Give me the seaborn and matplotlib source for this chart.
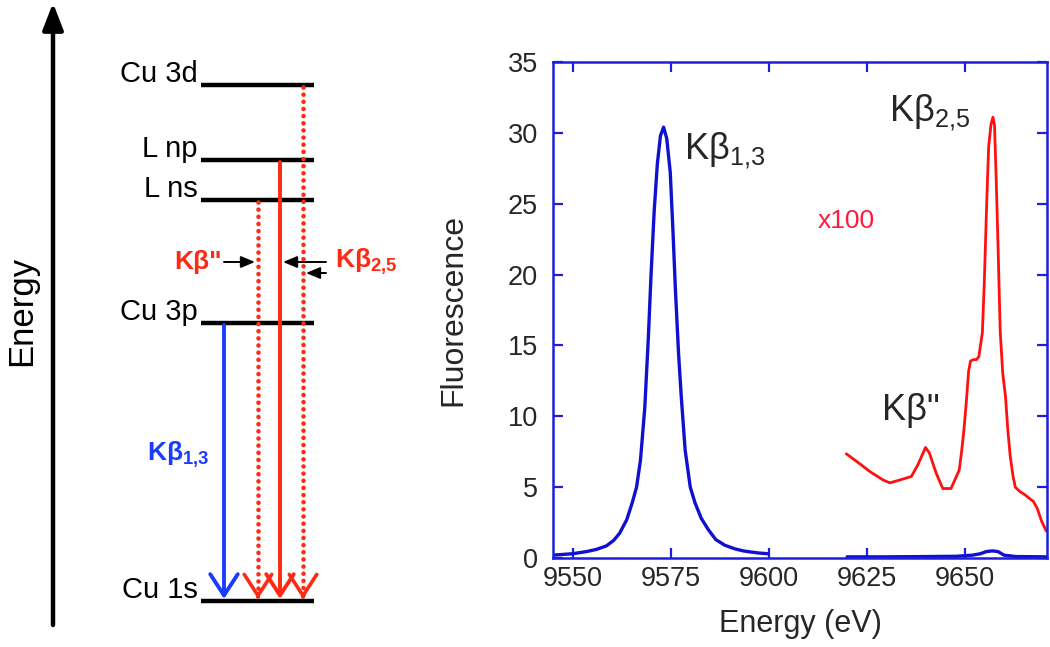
import matplotlib
matplotlib.use("Agg")
import matplotlib.pyplot as plt
import seaborn as sns
import pandas as pd

# ---- spectrum data ----
blue1_E = [9545, 9550, 9553.5, 9556, 9558.6, 9560.5, 9562, 9563.8, 9565.2, 9566.3,
           9567.3, 9568.4, 9569.3, 9570.0, 9570.8, 9571.6, 9572.4, 9573.2, 9574.0,
           9574.9, 9575.6, 9576.2, 9577.0, 9577.7, 9578.7, 9580.0, 9581.2, 9582.8,
           9584.6, 9586.5, 9588.8, 9591.3, 9593.5, 9595.5, 9597.5, 9599.7]
blue1_v = [0.2, 0.3, 0.45, 0.6, 0.85, 1.25, 1.75, 2.7, 3.9, 5.0,
           6.9, 10.6, 15.5, 20.0, 24.5, 27.8, 29.8, 30.4, 29.6,
           27.2, 23.0, 19.0, 14.5, 11.4, 7.6, 5.0, 3.9, 2.8,
           2.0, 1.3, 0.9, 0.65, 0.5, 0.42, 0.35, 0.3]

blue2_E = [9620, 9630, 9640, 9648, 9652, 9654, 9655.5, 9657, 9658.5, 9660, 9663, 9671]
blue2_v = [0.08, 0.08, 0.1, 0.12, 0.2, 0.3, 0.45, 0.5, 0.45, 0.2, 0.1, 0.08]

red_E = [9619.8, 9622.5, 9625.8, 9629.2, 9630.9, 9633.4, 9636.4, 9638.1, 9640.0,
         9641.0, 9642.7, 9644.4, 9646.5, 9648.6, 9649.2, 9649.8, 9650.4, 9651.0,
         9651.5, 9652.3, 9653.0, 9653.6, 9654.5, 9655.0, 9655.6, 9656.1, 9656.7,
         9657.2, 9657.6, 9658.0, 9658.5, 9659.05, 9659.7, 9660.4, 9661.0, 9661.6,
         9662.3, 9662.9, 9664.0, 9665.4, 9666.5, 9667.5, 9668.5, 9669.6, 9670.8]
red_v = [7.35, 6.8, 6.1, 5.5, 5.3, 5.5, 5.75, 6.6, 7.8,
         7.4, 6.0, 4.9, 4.9, 6.2, 7.5, 9.05, 11.0, 13.2,
         13.9, 14.0, 14.0, 14.2, 15.9, 19.5, 25.0, 29.0, 30.6,
         31.1, 30.5, 27.0, 22.0, 16.0, 13.0, 11.4, 9.0, 7.2,
         5.8, 5.0, 4.7, 4.45, 4.2, 4.0, 3.5, 2.6, 1.9]

x_ticks = [9550, 9575, 9600, 9625, 9650]
y_ticks = [0, 5, 10, 15, 20, 25, 30, 35]

# ---- level diagram data (schematic energies) ----
level_names = ["Cu 1s", "Cu 3p", "L ns", "L np", "Cu 3d"]
level_energy = [0, 278, 401, 441, 516]
trans_from = ["Cu 3p", "L ns", "L np", "Cu 3d"]
trans_x = [224, 258, 280, 303]
trans_dotted = [False, True, False, True]

RED = "#ff2a14"
BLUE_ARROW = "#1a3cff"
FRAME = "#1e1edc"
TXT = "#262626"

sns.set_theme(style="white")
plt.rcParams["font.family"] = ["Liberation Sans", "DejaVu Sans"]
plt.rcParams["mathtext.fontset"] = "custom"
plt.rcParams["mathtext.rm"] = "Liberation Sans"
plt.rcParams["mathtext.bf"] = "Liberation Sans:bold"

fig = plt.figure(figsize=(10.5, 6.47), dpi=100)

# ================= left: energy level diagram =================
axl = fig.add_axes([0, 0, 0.4, 1])
axl.set_xlim(0, 420)
axl.set_ylim(-46, 601)
axl.axis("off")

# energy axis arrow
axl.annotate("", xy=(53, 598), xytext=(53, -24),
             arrowprops=dict(arrowstyle="-|>,head_length=0.9,head_width=0.35",
                             color="black", lw=3.2, mutation_scale=18,
                             shrinkA=0, shrinkB=0))
axl.text(22, 290, "Energy", rotation=90, ha="center", va="center",
         fontsize=25, color="black")

lev = dict(zip(level_names, level_energy))
for name, e in zip(level_names, level_energy):
    axl.plot([201, 314], [e, e], color="black", lw=3.2, solid_capstyle="butt")
    axl.text(198, e + 3, name, ha="right", va="baseline", fontsize=21, color="black")

head = "->,head_length=0.85,head_width=0.55"
tip = lev["Cu 1s"] + 2
for src, x, dotted in zip(trans_from, trans_x, trans_dotted):
    col = BLUE_ARROW if src == "Cu 3p" else RED
    top = lev[src] - 2
    if dotted:
        axl.plot([x, x], [top, tip + 4], color=col, lw=3.3,
                 linestyle=(0, (0.01, 1.55)), dash_capstyle="round")
        axl.annotate("", xy=(x, tip), xytext=(x, tip + 3),
                     arrowprops=dict(arrowstyle=head, color=col, lw=2.6,
                                     mutation_scale=18, shrinkA=0, shrinkB=0))
    else:
        axl.annotate("", xy=(x, tip), xytext=(x, top),
                     arrowprops=dict(arrowstyle=head, color=col, lw=2.8,
                                     mutation_scale=18, shrinkA=0, shrinkB=0))

# pointer arrows and labels
ptr = dict(arrowstyle="-|>,head_length=0.6,head_width=0.25", color="black",
           lw=1.4, mutation_scale=14, shrinkA=0, shrinkB=0)
axl.annotate("", xy=(255, 339), xytext=(224, 339), arrowprops=ptr)
axl.annotate("", xy=(283, 339), xytext=(326, 339), arrowprops=ptr)
axl.annotate("", xy=(306, 328), xytext=(326, 328), arrowprops=ptr)

axl.text(222, 339, 'Kβ"', ha="right", va="center", fontsize=19,
         fontweight="bold", color=RED)
axl.text(335, 339, r"Kβ$_{\mathbf{2{,}5}}$", ha="left", va="center", fontsize=19,
         fontweight="bold", color=RED)
axl.text(147, 146, r"Kβ$_{\mathbf{1{,}3}}$", ha="left", va="center", fontsize=19,
         fontweight="bold", color=BLUE_ARROW)

# ================= right: spectrum =================
ax = fig.add_axes([0.5267, 0.1376, 0.4705, 0.7666])
df_b1 = pd.DataFrame({"E": blue1_E, "F": blue1_v})
df_b2 = pd.DataFrame({"E": blue2_E, "F": blue2_v})
df_r = pd.DataFrame({"E": red_E, "F": red_v})
sns.lineplot(data=df_b1, x="E", y="F", ax=ax, color="#1010d0", linewidth=2.4)
sns.lineplot(data=df_b2, x="E", y="F", ax=ax, color="#1010d0", linewidth=2.4)
sns.lineplot(data=df_r, x="E", y="F", ax=ax, color="#ff1010", linewidth=2.0)

ax.set_xlim(9545, 9671)
ax.set_ylim(0, 35)
ax.set_xticks(x_ticks)
ax.set_yticks(y_ticks)
for sp in ax.spines.values():
    sp.set_color(FRAME)
    sp.set_linewidth(1.8)
ax.tick_params(axis="both", which="both", direction="in", length=7, width=1.6,
               color=FRAME, labelcolor=TXT, labelsize=19.5,
               top=True, right=True, bottom=True, left=True)
ax.tick_params(axis="x", pad=6)
ax.tick_params(axis="y", pad=11)
ax.set_xlabel("Energy (eV)", fontsize=22, color=TXT, labelpad=12)
ax.set_ylabel("Fluorescence", fontsize=23, color=TXT, labelpad=28)

ax.text(9578.3, 28.1, r"Kβ$_{\mathregular{1{,}3}}$", fontsize=26, color=TXT,
        ha="left", va="baseline")
ax.text(9630.8, 30.8, r"Kβ$_{\mathregular{2{,}5}}$", fontsize=26, color=TXT,
        ha="left", va="baseline")
ax.text(9628.8, 9.75, 'Kβ"', fontsize=26, color=TXT, ha="left", va="baseline")
ax.text(9612.4, 23.3, "x100", fontsize=19, color="#ff1a40", ha="left", va="baseline")

fig.savefig("out.png", dpi=100)
